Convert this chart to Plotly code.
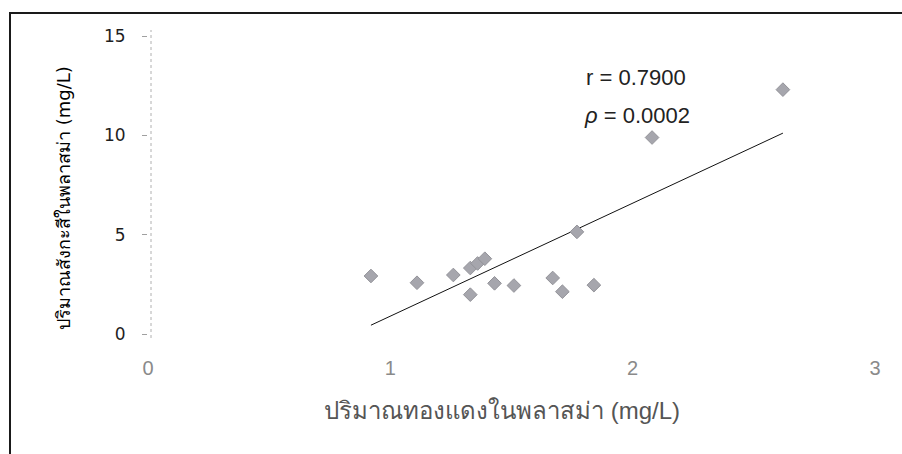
import numpy as np
import plotly.graph_objects as go

# Plasma copper vs plasma zinc (mg/L)
copper = [0.92, 1.11, 1.26, 1.33, 1.33, 1.36, 1.39, 1.43, 1.51, 1.67, 1.71, 1.77, 1.84, 2.08, 2.62]
zinc = [2.92, 2.58, 2.97, 1.98, 3.32, 3.55, 3.79, 2.55, 2.44, 2.82, 2.13, 5.14, 2.46, 9.89, 12.30]

x_ticks = [0, 1, 2, 3]
y_ticks = [0, 5, 10, 15]

x_title = "ปริมาณทองแดงในพลาสม่า (mg/L)"
y_title = "ปริมาณสังกะสีในพลาสม่า (mg/L)"
stat_r = "r = 0.7900"
stat_p = "<i>ρ</i> = 0.0002"

# least-squares trend line across the observed copper range
cx = np.array(copper)
zy = np.array(zinc)
slope, intercept = np.polyfit(cx, zy, 1)
line_x = np.array([cx.min(), cx.max()])
line_y = slope * line_x + intercept

fig = go.Figure()
fig.add_trace(go.Scatter(
    x=line_x, y=line_y, mode="lines",
    line=dict(color="#111111", width=1), hoverinfo="skip", showlegend=False,
))
fig.add_trace(go.Scatter(
    x=copper, y=zinc, mode="markers",
    marker=dict(symbol="diamond", size=10.5, color="#a6a6ad",
                line=dict(color="#939399", width=1)),
    showlegend=False,
))

L, R, T, B = 148, 27, 36, 120
W, H = 902, 454
pw, ph = W - L - R, H - T - B

def px_x(p):
    return (p - L) / pw

def px_y(p):
    return (H - B - p) / ph

def label(text, x, y, font, angle=0):
    return dict(text=text, x=px_x(x), y=px_y(y), xref="paper", yref="paper",
                xanchor="center", yanchor="middle", showarrow=False,
                textangle=angle, font=font)

fig.update_layout(
    width=W, height=H,
    margin=dict(l=L, r=R, t=T, b=B),
    paper_bgcolor="white", plot_bgcolor="white",
    xaxis=dict(
        range=[0, 3], tickvals=x_ticks, showgrid=False, zeroline=False,
        showline=False, ticks="", ticklabelstandoff=20,
        tickfont=dict(family="Liberation Sans Narrow, Liberation Sans, Arial", size=20, color="#8a8a8a"),
    ),
    yaxis=dict(
        range=[0, 15], tickvals=y_ticks, showgrid=False, zeroline=False,
        showline=False, ticks="outside", ticklen=5, tickcolor="#a0a0a0",
        ticklabelstandoff=13,
        tickfont=dict(family="DejaVu Sans, Verdana", size=17, color="#1e1e1e"),
    ),
    shapes=[
        # dotted y axis
        dict(type="line", xref="paper", yref="paper", x0=px_x(151), x1=px_x(151),
             y0=px_y(338), y1=px_y(30), line=dict(color="#b0b0b0", width=1, dash="dot")),
        # frame: top and left edges
        dict(type="line", xref="paper", yref="paper", x0=px_x(9), x1=px_x(902),
             y0=px_y(13), y1=px_y(13), line=dict(color="#1a1a1a", width=2)),
        dict(type="line", xref="paper", yref="paper", x0=px_x(10), x1=px_x(10),
             y0=px_y(454), y1=px_y(12), line=dict(color="#1a1a1a", width=2)),
    ],
    annotations=[
        label(stat_r, 636, 77, dict(family="Liberation Sans, Arial", size=22, color="#222222")),
        label(stat_p, 637, 116, dict(family="Liberation Sans, Arial", size=22, color="#222222")),
        label(x_title, 502, 410, dict(family="Liberation Sans Narrow, Liberation Sans", size=24, color="#555555")),
        label(y_title, 63, 198, dict(family="DejaVu Sans", size=18, color="#000000"), angle=-90),
    ],
)

fig.write_html("out.html")
